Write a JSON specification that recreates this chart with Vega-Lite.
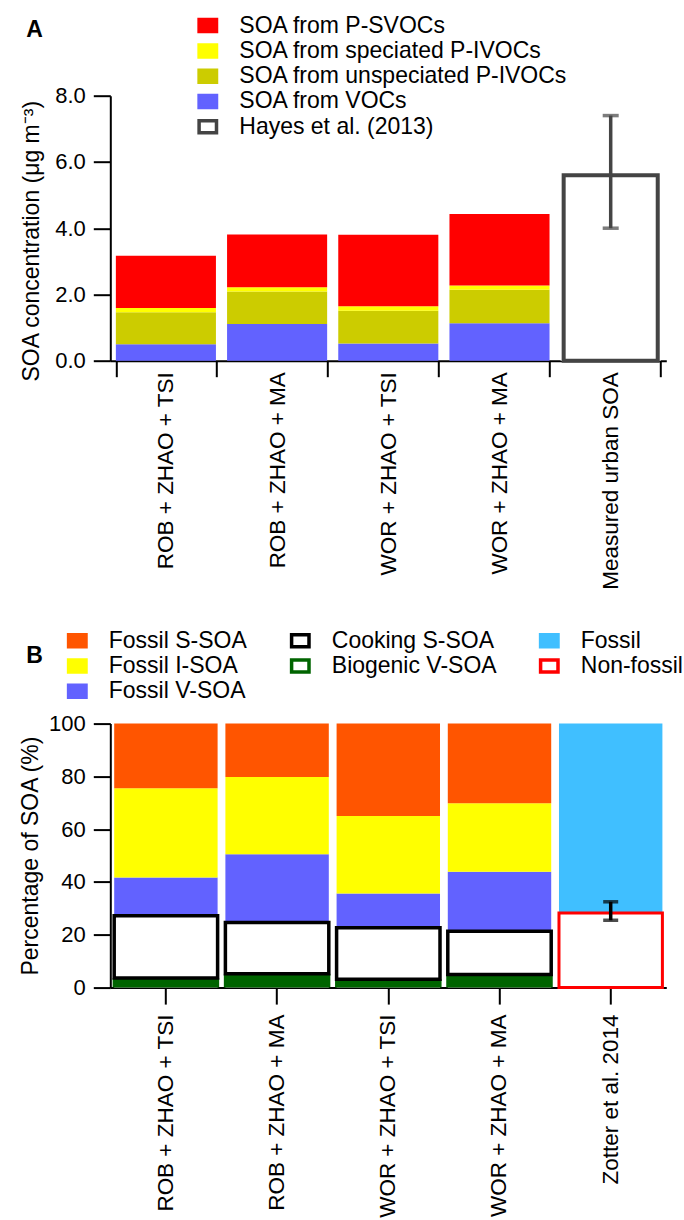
{
  "$schema": "https://vega.github.io/schema/vega-lite/v6.json",
  "background": "white",
  "padding": {"left": 19.3, "top": 13.7, "right": 0, "bottom": 0},
  "bounds": "flush",
  "spacing": 362.9,
  "config": {
    "font": "Liberation Sans",
    "view": {"stroke": null},
    "axis": {
      "grid": false,
      "domainColor": "black",
      "domainWidth": 2,
      "tickColor": "black",
      "tickWidth": 2,
      "labelColor": "black",
      "titleColor": "black",
      "labelFont": "Liberation Sans",
      "titleFont": "Liberation Sans",
      "titleFontWeight": "normal",
      "labelFontSize": 22,
      "titleFontSize": 23
    },
    "legend": {
      "labelFont": "Liberation Sans",
      "titleFont": "Liberation Sans",
      "labelFontSize": 23,
      "labelColor": "black",
      "titleColor": "black",
      "labelLimit": 400,
      "labelOffset": 20,
      "symbolType": "M-1.45,-1H1.45V1H-1.45Z",
      "symbolSize": 144,
      "symbolStrokeWidth": 3.5,
      "symbolOpacity": 1,
      "rowPadding": -1.7,
      "padding": 0
    }
  },
  "resolve": {
    "scale": {"fill": "independent", "stroke": "independent", "x": "independent", "y": "independent"},
    "legend": {"fill": "independent", "stroke": "independent"}
  },
  "vconcat": [
    {
      "width": 556,
      "height": 265,
      "data": {
        "values": [
          {"run": "ROB + ZHAO + TSI", "source": "SOA from VOCs", "soa": 0.50},
          {"run": "ROB + ZHAO + TSI", "source": "SOA from unspeciated P-IVOCs", "soa": 0.96},
          {"run": "ROB + ZHAO + TSI", "source": "SOA from speciated P-IVOCs", "soa": 0.13},
          {"run": "ROB + ZHAO + TSI", "source": "SOA from P-SVOCs", "soa": 1.58},
          {"run": "ROB + ZHAO + MA", "source": "SOA from VOCs", "soa": 1.11},
          {"run": "ROB + ZHAO + MA", "source": "SOA from unspeciated P-IVOCs", "soa": 0.98},
          {"run": "ROB + ZHAO + MA", "source": "SOA from speciated P-IVOCs", "soa": 0.13},
          {"run": "ROB + ZHAO + MA", "source": "SOA from P-SVOCs", "soa": 1.59},
          {"run": "WOR + ZHAO + TSI", "source": "SOA from VOCs", "soa": 0.52},
          {"run": "WOR + ZHAO + TSI", "source": "SOA from unspeciated P-IVOCs", "soa": 0.99},
          {"run": "WOR + ZHAO + TSI", "source": "SOA from speciated P-IVOCs", "soa": 0.13},
          {"run": "WOR + ZHAO + TSI", "source": "SOA from P-SVOCs", "soa": 2.16},
          {"run": "WOR + ZHAO + MA", "source": "SOA from VOCs", "soa": 1.13},
          {"run": "WOR + ZHAO + MA", "source": "SOA from unspeciated P-IVOCs", "soa": 1.01},
          {"run": "WOR + ZHAO + MA", "source": "SOA from speciated P-IVOCs", "soa": 0.13},
          {"run": "WOR + ZHAO + MA", "source": "SOA from P-SVOCs", "soa": 2.16},
          {"run": "Measured urban SOA", "source": "Hayes et al. (2013)", "soa": 5.6, "soa_min": 4.0, "soa_max": 7.4}
        ]
      },
      "transform": [
        {"stack": "soa", "groupby": ["run"], "as": ["soa_lo", "soa_hi"]}
      ],
      "encoding": {
        "x": {
          "field": "run",
          "type": "nominal",
          "sort": null,
          "scale": {"paddingInner": 0.1, "paddingOuter": 0.05},
          "axis": {
            "title": null,
            "labelAngle": -90,
            "labelFontSize": 22.5,
            "labelLimit": 300,
            "tickSize": 16,
            "tickBand": "extent",
            "labelPadding": -5
          }
        }
      },
      "layer": [
        {
          "mark": {"type": "bar"},
          "encoding": {
            "y": {
              "field": "soa_lo",
              "type": "quantitative",
              "title": "SOA concentration (μg m⁻³)",
              "scale": {"domain": [0, 8], "nice": false},
              "axis": {
                "values": [0, 1, 2, 3, 4, 5, 6, 7, 8],
                "labelExpr": "datum.value % 2 === 0 ? format(datum.value, '.1f') : ''",
                "tickSize": {"condition": {"test": "datum.value % 2 !== 0", "value": 10}, "value": 17},
                "labelPadding": 8,
                "titlePadding": 11,
                "titleY": 145
              }
            },
            "y2": {"field": "soa_hi"},
            "fill": {
              "field": "source",
              "type": "nominal",
              "scale": {
                "domain": ["SOA from P-SVOCs", "SOA from speciated P-IVOCs", "SOA from unspeciated P-IVOCs", "SOA from VOCs", "Hayes et al. (2013)"],
                "range": ["#FF0000", "#FFFF00", "#CCCC00", "#6262FF", "#FFFFFF"]
              },
              "legend": {
                "title": ["", "A"],
                "orient": "none",
                "legendX": -84,
                "legendY": -81.6,
                "titleOrient": "left",
                "titleAnchor": "start",
                "titleBaseline": "top",
                "titleLineHeight": 5,
                "titleFontSize": 23,
                "titleFontWeight": "bold",
                "titlePadding": 153
              }
            }
          }
        },
        {
          "transform": [{"filter": "datum.source === 'Hayes et al. (2013)'"}],
          "mark": {"type": "bar", "fill": "white", "strokeWidth": 4, "width": {"band": 0.94}},
          "encoding": {
            "y": {"field": "soa_lo", "type": "quantitative", "title": "SOA concentration (μg m⁻³)"},
            "y2": {"field": "soa_hi"},
            "stroke": {
              "field": "source",
              "type": "nominal",
              "scale": {
                "domain": ["SOA from P-SVOCs", "SOA from speciated P-IVOCs", "SOA from unspeciated P-IVOCs", "SOA from VOCs", "Hayes et al. (2013)"],
                "range": ["#FF0000", "#FFFF00", "#CCCC00", "#6262FF", "#444444"]
              },
              "legend": {
                "title": ["", "A"],
                "orient": "none",
                "legendX": -84,
                "legendY": -81.6,
                "titleOrient": "left",
                "titleAnchor": "start",
                "titleBaseline": "top",
                "titleLineHeight": 5,
                "titleFontSize": 23,
                "titleFontWeight": "bold",
                "titlePadding": 153
              }
            }
          }
        },
        {
          "transform": [{"filter": "isValid(datum.soa_min)"}],
          "mark": {"type": "errorbar", "color": "#444444", "thickness": 3.5, "ticks": {"size": 16}},
          "encoding": {
            "y": {"field": "soa_min", "type": "quantitative", "title": "SOA concentration (μg m⁻³)"},
            "y2": {"field": "soa_max"}
          }
        }
      ]
    },
    {
      "width": 556,
      "height": 264,
      "data": {
        "values": [
          {"run": "ROB + ZHAO + TSI", "kind": "Biogenic V-SOA", "pct": 3.6},
          {"run": "ROB + ZHAO + TSI", "kind": "Cooking S-SOA", "pct": 23.6},
          {"run": "ROB + ZHAO + TSI", "kind": "Fossil V-SOA", "pct": 14.5},
          {"run": "ROB + ZHAO + TSI", "kind": "Fossil I-SOA", "pct": 33.8},
          {"run": "ROB + ZHAO + TSI", "kind": "Fossil S-SOA", "pct": 24.5},
          {"run": "ROB + ZHAO + MA", "kind": "Biogenic V-SOA", "pct": 5.2},
          {"run": "ROB + ZHAO + MA", "kind": "Cooking S-SOA", "pct": 19.5},
          {"run": "ROB + ZHAO + MA", "kind": "Fossil V-SOA", "pct": 25.8},
          {"run": "ROB + ZHAO + MA", "kind": "Fossil I-SOA", "pct": 29.3},
          {"run": "ROB + ZHAO + MA", "kind": "Fossil S-SOA", "pct": 20.2},
          {"run": "WOR + ZHAO + TSI", "kind": "Biogenic V-SOA", "pct": 3.2},
          {"run": "WOR + ZHAO + TSI", "kind": "Cooking S-SOA", "pct": 19.5},
          {"run": "WOR + ZHAO + TSI", "kind": "Fossil V-SOA", "pct": 12.9},
          {"run": "WOR + ZHAO + TSI", "kind": "Fossil I-SOA", "pct": 29.4},
          {"run": "WOR + ZHAO + TSI", "kind": "Fossil S-SOA", "pct": 35.0},
          {"run": "WOR + ZHAO + MA", "kind": "Biogenic V-SOA", "pct": 5.0},
          {"run": "WOR + ZHAO + MA", "kind": "Cooking S-SOA", "pct": 16.3},
          {"run": "WOR + ZHAO + MA", "kind": "Fossil V-SOA", "pct": 22.6},
          {"run": "WOR + ZHAO + MA", "kind": "Fossil I-SOA", "pct": 25.9},
          {"run": "WOR + ZHAO + MA", "kind": "Fossil S-SOA", "pct": 30.2},
          {"run": "Zotter et al. 2014", "kind": "Non-fossil", "pct": 28.3, "pct_min": 25.5, "pct_max": 32.5},
          {"run": "Zotter et al. 2014", "kind": "Fossil", "pct": 71.7}
        ]
      },
      "transform": [
        {"stack": "pct", "groupby": ["run"], "as": ["pct_lo", "pct_hi"]}
      ],
      "encoding": {
        "x": {
          "field": "run",
          "type": "nominal",
          "sort": null,
          "scale": {"paddingInner": 0.07, "paddingOuter": 0.035},
          "axis": {
            "title": null,
            "labelAngle": -90,
            "labelFontSize": 22.5,
            "labelLimit": 300,
            "tickSize": 16.5,
            "labelPadding": 10
          }
        }
      },
      "layer": [
        {
          "mark": {"type": "bar"},
          "encoding": {
            "y": {
              "field": "pct_lo",
              "type": "quantitative",
              "title": "Percentage of SOA (%)",
              "scale": {"domain": [0, 100], "nice": false},
              "axis": {
                "values": [0, 20, 40, 60, 80, 100],
                "tickSize": 17,
                "labelPadding": 8,
                "titlePadding": 6
              }
            },
            "y2": {"field": "pct_hi"},
            "fill": {
              "field": "kind",
              "type": "nominal",
              "scale": {
                "domain": ["Fossil S-SOA", "Cooking S-SOA", "Fossil", "Fossil I-SOA", "Biogenic V-SOA", "Non-fossil", "Fossil V-SOA"],
                "range": ["#FF5500", "#FFFFFF", "#40BFFF", "#FFFF00", "#FFFFFF", "#FFFFFF", "#6262FF"]
              },
              "legend": {
                "title": ["", "B"],
                "orient": "none",
                "legendX": -84,
                "legendY": -94.5,
                "direction": "horizontal",
                "columns": 3,
                "columnPadding": 36,
                "titleOrient": "left",
                "titleAnchor": "start",
                "titleBaseline": "top",
                "titleLineHeight": 16,
                "titleFontSize": 23,
                "titleFontWeight": "bold",
                "titlePadding": 22.5
              }
            }
          }
        },
        {
          "transform": [{"filter": "datum.kind === 'Biogenic V-SOA'"}],
          "mark": {"type": "bar", "fill": "#006400", "width": {"band": 1.03}},
          "encoding": {
            "y": {"field": "pct_lo", "type": "quantitative", "title": "Percentage of SOA (%)"},
            "y2": {"field": "pct_hi"}
          }
        },
        {
          "transform": [{"filter": "datum.kind === 'Cooking S-SOA' || datum.kind === 'Non-fossil'"}],
          "mark": {"type": "bar", "fill": "white"},
          "encoding": {
            "y": {"field": "pct_lo", "type": "quantitative", "title": "Percentage of SOA (%)"},
            "y2": {"field": "pct_hi"},
            "strokeWidth": {
              "condition": {"test": "datum.kind === 'Non-fossil'", "value": 3},
              "value": 3.5
            },
            "stroke": {
              "field": "kind",
              "type": "nominal",
              "scale": {
                "domain": ["Fossil S-SOA", "Cooking S-SOA", "Fossil", "Fossil I-SOA", "Biogenic V-SOA", "Non-fossil", "Fossil V-SOA"],
                "range": ["#FF5500", "#000000", "#40BFFF", "#FFFF00", "#006400", "#FF0000", "#6262FF"]
              },
              "legend": {
                "title": ["", "B"],
                "orient": "none",
                "legendX": -84,
                "legendY": -94.5,
                "direction": "horizontal",
                "columns": 3,
                "columnPadding": 36,
                "titleOrient": "left",
                "titleAnchor": "start",
                "titleBaseline": "top",
                "titleLineHeight": 16,
                "titleFontSize": 23,
                "titleFontWeight": "bold",
                "titlePadding": 22.5
              }
            }
          }
        },
        {
          "transform": [{"filter": "isValid(datum.pct_min)"}],
          "mark": {"type": "errorbar", "color": "black", "thickness": 3.5, "ticks": {"size": 15}},
          "encoding": {
            "y": {"field": "pct_min", "type": "quantitative", "title": "Percentage of SOA (%)"},
            "y2": {"field": "pct_max"}
          }
        }
      ]
    }
  ]
}
